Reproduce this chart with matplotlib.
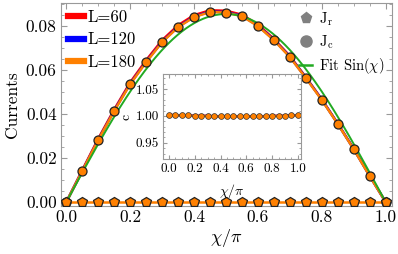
import numpy as np
import matplotlib
matplotlib.use("Agg")
import matplotlib.pyplot as plt
from matplotlib.lines import Line2D
from matplotlib.ticker import MultipleLocator

plt.rcParams['font.family'] = ['cmr10', 'DejaVu Serif']
plt.rcParams['mathtext.fontset'] = 'cm'
plt.rcParams['axes.formatter.use_mathtext'] = True

chi = [0.0, 0.05, 0.1, 0.15, 0.2, 0.25, 0.3, 0.35, 0.4, 0.45, 0.5,
       0.55, 0.6, 0.65, 0.7, 0.75, 0.8, 0.85, 0.9, 0.95, 1.0]
jc_180 = [0.0, 0.0141, 0.0282, 0.0414, 0.0536, 0.0636, 0.0727, 0.0795, 0.0841,
          0.0864, 0.0862, 0.0845, 0.0800, 0.0736, 0.0659, 0.0564, 0.0464,
          0.0355, 0.0240, 0.0118, 0.0]
jc_120 = [0.0, 0.0142, 0.0283, 0.0416, 0.0538, 0.0638, 0.0729, 0.0797, 0.0843,
          0.0866, 0.0864, 0.0847, 0.0802, 0.0738, 0.0661, 0.0566, 0.0466,
          0.0356, 0.0241, 0.0119, 0.0]
jc_60 = [0.0, 0.0145, 0.0288, 0.0421, 0.0544, 0.0645, 0.0736, 0.0804, 0.0850,
         0.0872, 0.0870, 0.0852, 0.0807, 0.0742, 0.0664, 0.0568, 0.0467,
         0.0357, 0.0242, 0.0120, 0.0]
jr = [0.0] * 21
fit_amp = 0.0855
c_ratio = [1.002, 1.001, 1.001, 1.001, 1.000, 1.000, 1.000, 0.999, 0.999, 0.999,
           0.999, 0.999, 0.999, 0.999, 0.999, 0.999, 1.000, 1.000, 1.000, 1.001, 1.001]

fig = plt.figure(figsize=(3.98, 2.54), dpi=100)
ax = fig.add_axes([0.153, 0.189, 0.832, 0.799])

colors = {'L=60': '#ff0000', 'L=120': '#0000ff', 'L=180': '#ff8000'}
orange = '#ff8000'

chi_fine = np.linspace(0, 1, 300)
ax.plot(chi, jc_60, color=colors['L=60'], lw=1.8, zorder=2)
ax.plot(chi, jc_120, color=colors['L=120'], lw=1.8, zorder=2)
ax.plot(chi, jc_180, color=orange, lw=1.8, zorder=3)
ax.plot(chi, jr, color=orange, lw=1.8, zorder=3)
ax.plot(chi_fine, fit_amp * np.sin(np.pi * chi_fine), color='#22aa22', lw=1.4, zorder=4)
ax.plot(chi, jc_180, 'o', ms=6.5, mfc=orange, mec='#222222', mew=0.9, zorder=5)
ax.plot(chi, jr, 'p', ms=7, mfc=orange, mec='#222222', mew=0.9, zorder=5)

ax.set_xlim(-0.017, 1.02)
ax.set_ylim(-0.0018, 0.0905)
ax.xaxis.set_major_locator(MultipleLocator(0.2))
ax.xaxis.set_minor_locator(MultipleLocator(0.05))
ax.yaxis.set_major_locator(MultipleLocator(0.02))
ax.yaxis.set_minor_locator(MultipleLocator(0.005))
ax.xaxis.set_major_formatter(matplotlib.ticker.FormatStrFormatter('%.1f'))
ax.yaxis.set_major_formatter(matplotlib.ticker.FormatStrFormatter('%.2f'))
ax.tick_params(which='both', direction='in', top=True, right=True, color='#999999',
               labelsize=12.5, pad=3)
ax.tick_params(which='major', length=4)
ax.tick_params(which='minor', length=2)
for s in ax.spines.values():
    s.set_color('#999999')
ax.set_ylabel('Currents', fontsize=12.5, labelpad=4)
ax.set_xlabel(r'$\chi/\pi$', fontsize=13, labelpad=1)

h1 = [Line2D([], [], color=colors[k], lw=4.5) for k in colors]
leg1 = ax.legend(h1, list(colors.keys()), loc='upper left', frameon=False,
                 fontsize=12, handlelength=1.0, handletextpad=0.2,
                 labelspacing=0.42, borderaxespad=0.1, borderpad=0.3)
ax.add_artist(leg1)
h2 = [Line2D([], [], ls='none', marker='p', ms=8, color='#808080'),
      Line2D([], [], ls='none', marker='o', ms=8, color='#808080'),
      Line2D([], [], color='#22aa22', lw=1.8)]
ax.legend(h2, [r'$\mathrm{J_r}$', r'$\mathrm{J_c}$', r'Fit Sin($\chi$)'], loc='upper right',
          frameon=False, fontsize=10.5, handlelength=0.9, handletextpad=0.5,
          labelspacing=0.35, borderaxespad=0.1, borderpad=0.4)

ins = fig.add_axes([0.41, 0.374, 0.346, 0.335])
ins.set_facecolor('white')
ins.plot(chi, [v + 0.0006 for v in c_ratio], color=colors['L=60'], lw=1.5)
ins.plot(chi, c_ratio, color=colors['L=120'], lw=1.5)
ins.plot(chi, c_ratio, color=orange, lw=1.5)
ins.plot(chi, c_ratio, 'o', ms=4.2, mfc=orange, mec='#333333', mew=0.5)
ins.set_xlim(-0.045, 1.023)
ins.set_ylim(0.92, 1.078)
ins.xaxis.set_major_locator(MultipleLocator(0.2))
ins.xaxis.set_minor_locator(MultipleLocator(0.05))
ins.yaxis.set_major_locator(MultipleLocator(0.05))
ins.yaxis.set_minor_locator(MultipleLocator(0.01))
ins.xaxis.set_major_formatter(matplotlib.ticker.FormatStrFormatter('%.1f'))
ins.yaxis.set_major_formatter(matplotlib.ticker.FormatStrFormatter('%.2f'))
ins.tick_params(which='both', direction='in', top=True, right=True, color='#999999',
                labelsize=9.5, pad=3)
ins.tick_params(which='major', length=3)
ins.tick_params(which='minor', length=1.5)
for s in ins.spines.values():
    s.set_color('#999999')
ins.set_ylabel('c', fontsize=10, labelpad=2)
ins.set_xlabel(r'$\chi/\pi$', fontsize=10, labelpad=5)

fig.savefig('out.png', dpi=100)
